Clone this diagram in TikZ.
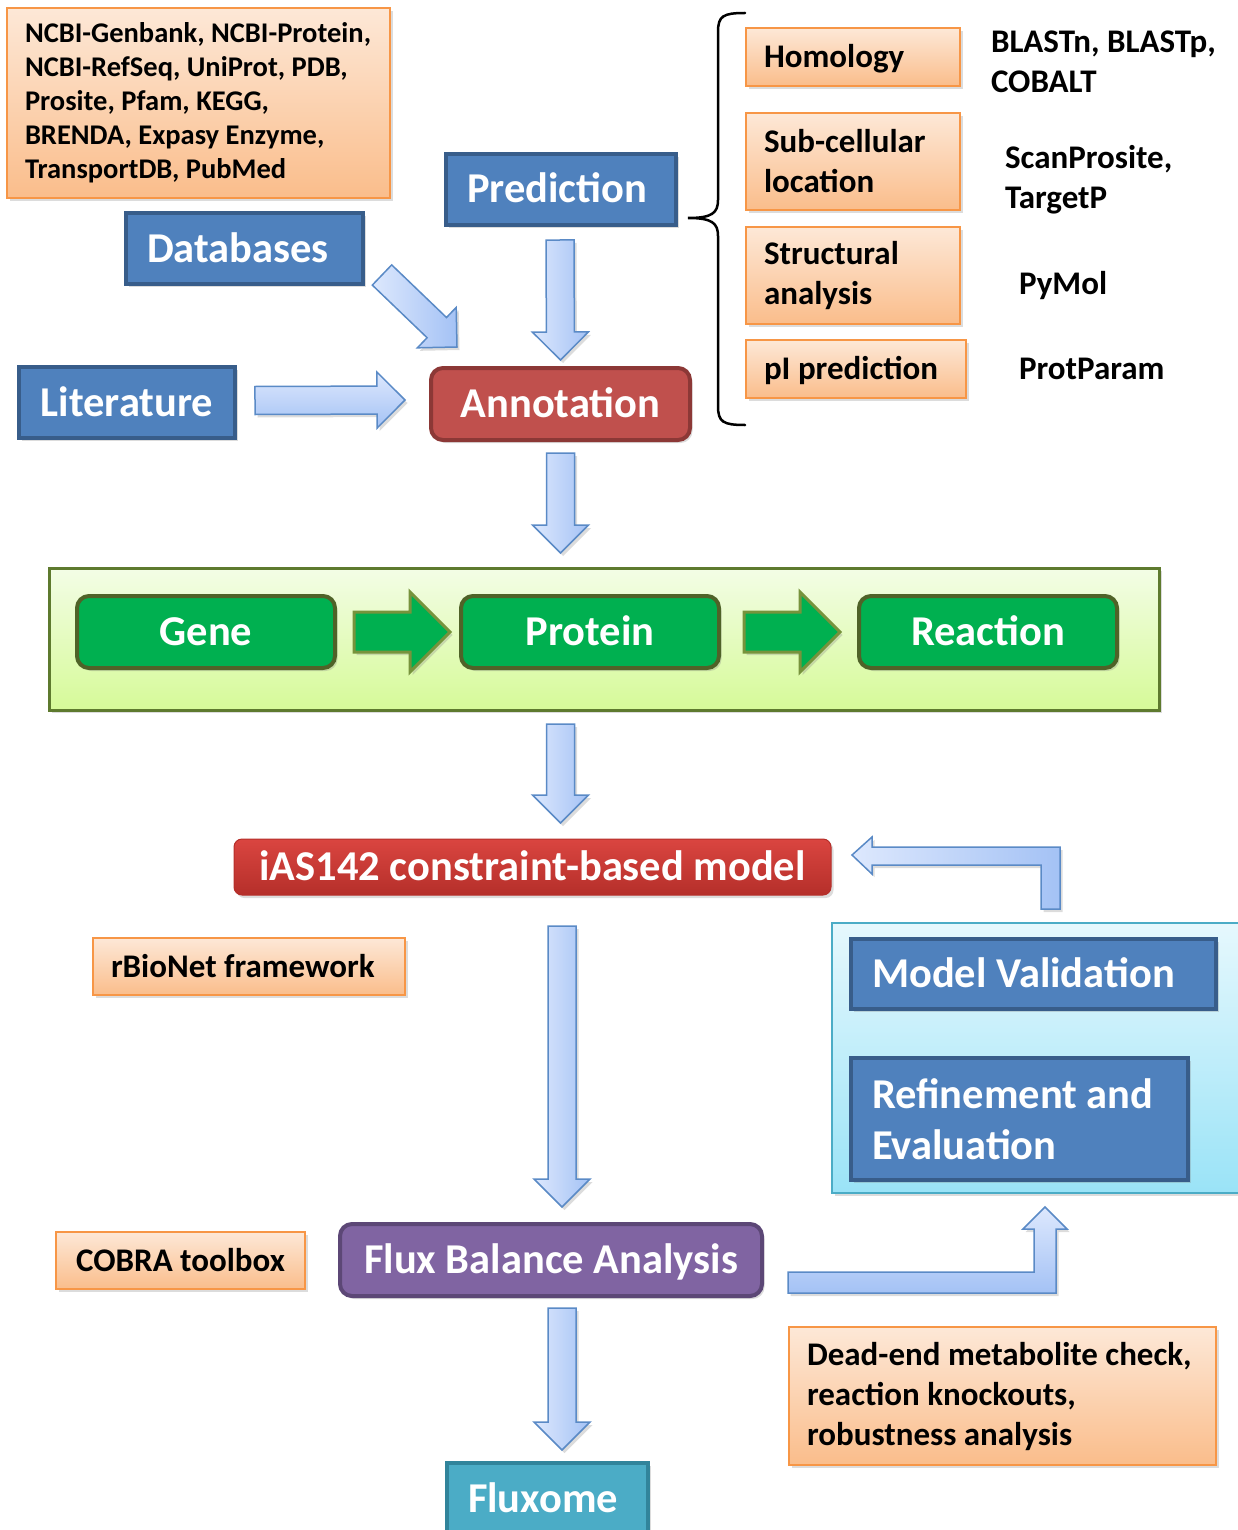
\documentclass[tikz,border=0pt]{standalone}
\usepackage{fontspec}
\setmainfont{Carlito}
\usetikzlibrary{calc,shadows}
\definecolor{bluefill}{HTML}{4F81BD}
\definecolor{bluedark}{HTML}{385D8A}
\definecolor{orangeline}{HTML}{F79646}
\definecolor{orangetop}{HTML}{FDE8D7}
\definecolor{orangebot}{HTML}{FABD8B}
\definecolor{redfill}{HTML}{C0504D}
\definecolor{reddark}{HTML}{8C3836}
\definecolor{modeltop}{HTML}{DA4540}
\definecolor{modelbot}{HTML}{B52F2A}
\definecolor{gtop}{HTML}{F3FDE6}
\definecolor{gbot}{HTML}{D6FA98}
\definecolor{gline}{HTML}{5E7A2E}
\definecolor{greenfill}{HTML}{00B050}
\definecolor{greendark}{HTML}{4F6228}
\definecolor{garrowline}{HTML}{77933C}
\definecolor{ctop}{HTML}{E6F8FD}
\definecolor{cbot}{HTML}{9AE3F7}
\definecolor{cline}{HTML}{4BACC6}
\definecolor{purplefill}{HTML}{8064A2}
\definecolor{purpledark}{HTML}{5C4776}
\definecolor{tealfill}{HTML}{4BACC6}
\definecolor{tealdark}{HTML}{31849B}
\definecolor{arrowlight}{HTML}{DDE8FD}
\definecolor{arrowdark}{HTML}{A4C2F5}
\definecolor{arrowline}{HTML}{5A8AC6}

\newcommand\blockarrow[6]{% style, from, to, shaft half, head half, head length
  \coordinate (baS) at (#2);
  \coordinate (baE) at (#3);
  \coordinate (baH) at ($(baE)!#6pt!(baS)$);
  \filldraw[#1] ($(baS)!#4pt!90:(baE)$) -- ($(baH)!#4pt!90:(baE)$) -- ($(baH)!#5pt!90:(baE)$) -- (baE)
    -- ($(baH)!#5pt!-90:(baE)$) -- ($(baH)!#4pt!-90:(baE)$) -- ($(baS)!#4pt!-90:(baE)$) -- cycle;
}

\tikzset{
  every node/.style={outer sep=0pt},
  shadowed/.style={drop shadow={shadow xshift=2.5pt,shadow yshift=-3pt,opacity=0.28}},
  bigfont/.style={font=\bfseries\fontsize{42.5}{51}\selectfont},
  midfont/.style={font=\bfseries\fontsize{33}{40}\selectfont},
  onebig/.style={text height=27pt, text depth=0pt},
  onemid/.style={text height=21pt, text depth=0pt},
  bluebox/.style={shadowed, draw=bluedark, fill=bluefill, line width=3.5, text=white, bigfont, align=flush left, inner xsep=21, inner ysep=0, anchor=north west},
  tealbox/.style={bluebox, draw=tealdark, fill=tealfill},
  orangebox/.style={shadowed, draw=orangeline, line width=2, top color=orangetop, bottom color=orangebot, midfont, align=flush left, inner xsep=18, inner ysep=0, anchor=north west},
  redbox/.style={shadowed, draw=reddark, fill=redfill, line width=4, rounded corners=12, text=white, bigfont, inner sep=0, anchor=north west},
  modelbox/.style={shadowed, draw=modelbot, top color=modeltop, bottom color=modelbot, line width=1, rounded corners=8, text=white, bigfont, inner sep=0, anchor=north west},
  greenbox/.style={shadowed, draw=greendark, fill=greenfill, line width=4, rounded corners=12, text=white, bigfont, inner sep=0, anchor=north west},
  purplebox/.style={shadowed, draw=purpledark, fill=purplefill, line width=4, rounded corners=12, text=white, bigfont, inner sep=0, anchor=north west},
  gcontainer/.style={shadowed, draw=gline, line width=3, top color=gtop, bottom color=gbot, inner sep=0, anchor=north west},
  ccontainer/.style={shadowed, draw=cline, line width=2, top color=ctop, bottom color=cbot, inner sep=0, anchor=north west},
  plain/.style={midfont, align=flush left, inner sep=0},
  barrowv/.style={shadowed, draw=arrowline, line width=1.5, left color=arrowlight, right color=arrowdark},
  barrowh/.style={shadowed, draw=arrowline, line width=1.5, top color=arrowlight, bottom color=arrowdark},
  garrow/.style={shadowed, draw=garrowline, line width=3, fill=greenfill},
}

\begin{document}
\begin{tikzpicture}[x=1pt,y=-1pt]
\useasboundingbox (0,0) rectangle (1238,1530);

% ---------- top part ----------
\node[orangebox, minimum width=383, minimum height=190, text width=347, font=\bfseries\fontsize{28.5}{34}\selectfont] (dbl) at (7,8)
  {NCBI-Genbank, NCBI-Protein,\\NCBI-RefSeq, UniProt, PDB,\\Prosite, Pfam, KEGG,\\BRENDA, Expasy Enzyme,\\TransportDB, PubMed};

\node[bluebox, minimum width=230, minimum height=71, text width=188, onebig] (pred) at (446,154) {Prediction};
\node[bluebox, minimum width=237, minimum height=71, text width=195, onebig] (db) at (126,213) {Databases};
\node[bluebox, minimum width=216, minimum height=71, onebig] (lit) at (19,367) {Literature};
\node[redbox, minimum width=259, minimum height=72, onebig] (annot) at (431,368) {Annotation};

\node[orangebox, minimum width=214, minimum height=58, text width=178, onemid] (hom) at (746,28) {Homology};
\node[orangebox, minimum width=214, minimum height=97, text width=178] (sub) at (746,113) {Sub-cellular\\location};
\node[orangebox, minimum width=214, minimum height=97, text width=178] (str) at (746,227) {Structural\\analysis};
\node[orangebox, minimum width=220, minimum height=58, text width=184, onemid] (pi) at (746,340) {pI prediction};

\node[plain, anchor=west] (t1) at (991,62) {BLASTn, BLASTp,\\COBALT};
\node[plain, anchor=west] (t2) at (1005,180) {ScanProsite,\\TargetP};
\node[plain, anchor=west, onemid] (t3) at (1019,284) {PyMol};
\node[plain, anchor=west, onemid] (t4) at (1019,369) {ProtParam};

% brace
\draw[line width=2.5, line cap=round] (745,13) .. controls (723,13) and (718,16) .. (718,32) -- (718,200)
  .. controls (718,213) and (712,218) .. (688,218) .. controls (712,218) and (718,223) .. (718,236)
  -- (718,406) .. controls (718,422) and (723,425) .. (745,425);

% arrows into annotation
\blockarrow{barrowv}{$(pred.south)+(-1,15)$}{$(annot.north)+(0,-8)$}{14}{28}{28}
\blockarrow{barrowv}{$(db.south east)+(19,-9)$}{$(annot.north west)+(26,-21)$}{14}{28}{28}
\blockarrow{barrowh}{$(lit.east)+(20,-2)$}{$(annot.west)+(-26,-4)$}{14}{28}{28}

% ---------- gene / protein / reaction ----------
\node[gcontainer, minimum width=1110, minimum height=142] (gc) at (49,568) {};
\blockarrow{barrowv}{$(annot.south)+(0,13)$}{$(annot.south |- gc.north)+(0,-15)$}{14}{28}{28}

\node[greenbox, minimum width=258, minimum height=72, onebig] (gene) at (77,596) {Gene};
\node[greenbox, minimum width=258, minimum height=72, onebig] (prot) at (461,596) {Protein};
\node[greenbox, minimum width=258, minimum height=72, onebig] (reac) at (859,596) {Reaction};
\blockarrow{garrow}{$(gene.east)+(19,0)$}{$(prot.west)+(-11,0)$}{20}{40}{40}
\blockarrow{garrow}{$(prot.east)+(25,0)$}{$(reac.west)+(-19,0)$}{20}{40}{40}

% ---------- model ----------
\node[modelbox, minimum width=597, minimum height=56, onebig] (model) at (234,839) {iAS142 constraint-based model};
\blockarrow{barrowv}{$(annot.south |- gc.south)+(0,14)$}{$(annot.south |- model.north)+(0,-16)$}{14}{28}{28}

\node[orangebox, minimum width=312, minimum height=57, text width=276, onemid] (rbio) at (93,938) {rBioNet framework};

\node[ccontainer, minimum width=420, minimum height=270] (cc) at (832,923) {};
\node[bluebox, minimum width=365, minimum height=70, text width=323, onebig] (mv) at (851,939) {Model Validation};
\node[bluebox, minimum width=337, minimum height=122, text width=295] (ref) at (851,1058) {Refinement and\\Evaluation};

% return arrow (validation -> model)
\filldraw[barrowv] (1060,909) -- (1060,847) -- (872,847) -- (872,837) -- (852,855) -- (872,874) -- (872,865)
  -- (1041,865) -- (1041,909) -- cycle;

% ---------- FBA ----------
\node[purplebox, minimum width=422, minimum height=72, onebig] (fba) at (340,1224) {Flux Balance Analysis};
\node[orangebox, minimum width=249, minimum height=57, onemid] (cobra) at (56,1232) {COBRA toolbox};
\blockarrow{barrowv}{$(fba.north |- model.south)+(11,31)$}{$(fba.north)+(11,-17)$}{14}{28}{28}

% FBA -> validation
\filldraw[barrowh] (788,1272) -- (1034,1272) -- (1034,1229) -- (1023,1229) -- (1045,1207) -- (1067,1229)
  -- (1056,1229) -- (1056,1293) -- (788,1293) -- cycle;

\node[orangebox, minimum width=427, minimum height=138, text width=391] (dead) at (789,1327)
  {Dead-end metabolite check,\\reaction knockouts,\\robustness analysis};

\node[tealbox, minimum width=201, minimum height=72, text width=159, onebig] (flux) at (447,1463) {Fluxome};
\blockarrow{barrowv}{$(fba.south)+(11,12)$}{$(flux.north)+(14.5,-13)$}{14}{28}{28}

\end{tikzpicture}
\end{document}
